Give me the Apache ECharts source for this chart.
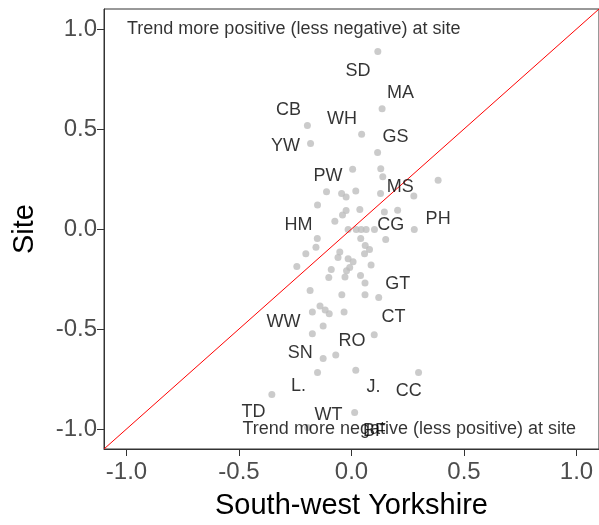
<!DOCTYPE html>
<html>
<head>
<meta charset="utf-8">
<script src="https://cdn.jsdelivr.net/npm/echarts@6/dist/echarts.min.js"></script>
<style>html,body{margin:0;padding:0;background:#fff}#c{width:599px;height:525px}</style>
</head>
<body>
<div id="c"></div>
<script>
// South-west Yorkshire trend (x) vs site trend (y)
const pointX = [0.117,0.136,-0.196,-0.182,0.045,0.116,0.005,0.130,0.139,0.385,
  -0.111,-0.044,-0.024,0.019,0.129,0.277,-0.151,-0.024,-0.040,0.037,
  0.146,0.205,-0.074,-0.015,0.021,0.043,0.065,0.102,0.279,-0.152,
  0.041,0.152,-0.158,-0.203,-0.052,-0.060,0.061,0.080,0.058,-0.015,
  0.007,-0.008,-0.022,-0.243,0.087,-0.090,-0.101,-0.029,0.040,0.060,
  -0.184,-0.043,0.060,0.121,-0.140,-0.117,-0.099,-0.174,-0.033,-0.126,
  -0.174,0.101,-0.070,-0.126,-0.151,0.019,0.298,-0.354,0.014,-0.195];
const pointY = [0.887,0.601,0.517,0.427,0.474,0.382,0.299,0.301,0.261,0.244,
  0.186,0.178,0.160,0.190,0.178,0.165,0.120,0.093,0.070,0.098,
  0.085,0.094,0.039,-0.002,-0.002,-0.002,-0.002,-0.002,-0.002,-0.048,
  -0.048,-0.053,-0.091,-0.124,-0.115,-0.143,-0.082,-0.102,-0.124,-0.149,
  -0.164,-0.192,-0.209,-0.188,-0.180,-0.202,-0.242,-0.240,-0.232,-0.270,
  -0.307,-0.329,-0.329,-0.343,-0.385,-0.405,-0.424,-0.415,-0.415,-0.485,
  -0.524,-0.529,-0.630,-0.648,-0.717,-0.706,-0.717,-0.827,-0.917,-0.992];

// site labels (text anchor positions in data units)
const labelText = ["SD","MA","CB","WH","YW","GS","PW","MS","HM","CG","PH","GT","CT","WW","RO","SN","L.","J.","CC","TD","WT","BF"];
const labelX = [0.029,0.218,-0.280,-0.042,-0.293,0.196,-0.104,0.217,-0.236,0.174,0.385,0.205,0.187,-0.302,0.002,-0.228,-0.236,0.098,0.254,-0.436,-0.102,0.102];
const labelY = [0.788,0.682,0.597,0.552,0.414,0.462,0.264,0.208,0.018,0.018,0.051,-0.277,-0.441,-0.466,-0.560,-0.618,-0.784,-0.792,-0.810,-0.917,-0.929,-1.010];

// 1:1 reference line
const refLine = [[-1.1,-1.1],[1.1,1.1]];
const tickValues = [-1.0,-0.5,0.0,0.5,1.0];
const annotTop = "Trend more positive (less negative) at site";
const annotBottom = "Trend more negative (less positive) at site";

const chart = echarts.init(document.getElementById('c'), null, {renderer:'canvas'});
const font = 'Liberation Sans, Arial, sans-serif';

const pts = pointX.map((x,i)=>[x, pointY[i]]);
const labs = labelX.map((x,i)=>({value:[x, labelY[i]], name: labelText[i]}));

const axisCommon = {
  type:'value', min:-1.1, max:1.1,
  splitLine:{show:false},
  axisLine:{show:true, onZero:false, lineStyle:{color:'#333333', width:1}},
  axisTick:{show:true, length:7, lineStyle:{color:'#333333'}, customValues: tickValues},
  axisLabel:{color:'#4d4d4d', fontSize:24, fontFamily:font, customValues: tickValues,
    formatter: v => v.toFixed(1)},
  nameLocation:'middle',
  nameTextStyle:{color:'#000', fontSize:29, fontFamily:font}
};

chart.setOption({
  animation:false,
  grid:{left:104, top:9, width:499, height:442, show:true, borderColor:'#333333', borderWidth:1},
  xAxis:Object.assign({}, axisCommon, {name:'South-west Yorkshire', nameGap:42,
    axisLabel:Object.assign({}, axisCommon.axisLabel, {margin:11})}),
  yAxis:Object.assign({}, axisCommon, {name:'Site', nameGap:65,
    axisLabel:Object.assign({}, axisCommon.axisLabel, {margin:7})}),
  series:[
    {type:'scatter', data:pts, symbolSize:7, itemStyle:{color:'#bebebe'}, z:2},
    {type:'line', data:refLine, showSymbol:false, lineStyle:{color:'#ff0000', width:1}, z:3},
    {type:'scatter', data:labs, symbolSize:1, itemStyle:{color:'rgba(0,0,0,0)'}, z:4,
      label:{show:true, position:'inside', formatter: p => p.name, color:'#000', fontSize:18, fontFamily:font}},
    {type:'scatter', data:[{value:[-1.0,1.0], name:annotTop}], symbolSize:1, itemStyle:{color:'rgba(0,0,0,0)'}, z:4,
      label:{show:true, position:'right', distance:0, formatter: p => p.name, color:'#000', fontSize:18, fontFamily:font}},
    {type:'scatter', data:[{value:[1.0,-1.0], name:annotBottom}], symbolSize:1, itemStyle:{color:'rgba(0,0,0,0)'}, z:4,
      label:{show:true, position:'left', distance:0, formatter: p => p.name, color:'#000', fontSize:18, fontFamily:font}}
  ]
});
</script>
</body>
</html>
